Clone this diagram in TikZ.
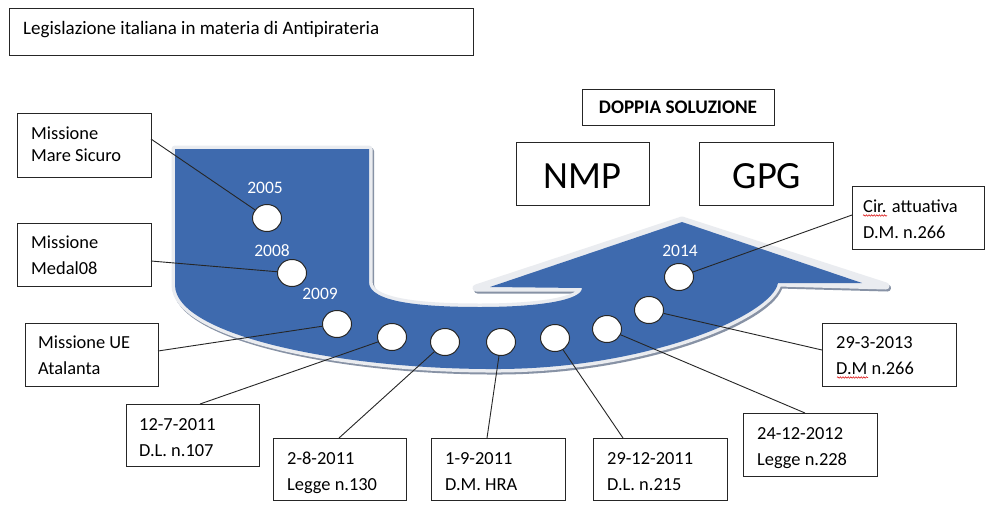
\documentclass[tikz,border=0pt]{standalone}
\usepackage{fontspec}
\setmainfont{Carlito}
\usetikzlibrary{calc,shapes.geometric,decorations.pathmorphing}
\definecolor{arrowblue}{RGB}{62,106,174}
\definecolor{bevelc}{RGB}{234,236,240}
\definecolor{shadowc}{RGB}{135,146,165}
\begin{document}
\begin{tikzpicture}[x=1pt,y=-1pt,
  box/.style={draw=black!85,line width=1pt,fill=white,inner sep=0pt,outer sep=0pt,anchor=north west},
  txt/.style={anchor=base west,inner sep=0pt,font=\fontsize{18.4}{26}\selectfont},
  yr/.style={anchor=base,inner sep=0pt,text=white,font=\fontsize{17.5}{20}\selectfont},
  dot/.style={ellipse,draw=black!85,line width=1pt,fill=white,minimum width=29pt,minimum height=27pt,inner sep=0pt},
  conn/.style={draw=black!85,line width=0.9pt},
  squig/.style={draw=red!85!black,line width=0.5pt,decorate,decoration={snake,segment length=2.6pt,amplitude=0.8pt}}
]
\useasboundingbox[fill=white] (0,0) rectangle (1004,528);

% ---- U-turn arrow: shadow, bevel, body
\begin{scope}[shift={(1.5,2)}]
\path[fill=shadowc,draw=shadowc,line width=7pt,line join=round]
  (175,149) -- (369,149) -- (369,282) .. controls (369,302) and (420,307) .. (480,307)
  .. controls (540,307) and (582,300) .. (582,288) -- (476,288) -- (682,220) -- (886,286)
  -- (778,283) .. controls (772,315) and (650,368) .. (500,369)
  .. controls (340,370) and (175,335) .. (175,285) -- cycle;
\end{scope}
\path[fill=bevelc,draw=bevelc,line width=7pt,line join=round]
  (175,149) -- (369,149) -- (369,282) .. controls (369,302) and (420,307) .. (480,307)
  .. controls (540,307) and (582,300) .. (582,288) -- (476,288) -- (682,220) -- (886,286)
  -- (778,283) .. controls (772,315) and (650,368) .. (500,369)
  .. controls (340,370) and (175,335) .. (175,285) -- cycle;
\fill[arrowblue]
  (175,149) -- (369,149) -- (369,282) .. controls (369,302) and (420,307) .. (480,307)
  .. controls (540,307) and (582,300) .. (582,288) -- (490,287) -- (682,222) -- (862,283)
  -- (778,283) .. controls (772,315) and (650,368) .. (500,369)
  .. controls (340,370) and (175,335) .. (175,285) -- cycle;

% ---- year labels
\node[yr] (y2005) at (265,193) {2005};
\node[yr] (y2008) at (272,256) {2008};
\node[yr] (y2009) at (320,299) {2009};
\node[yr] (y2014) at (680,256) {2014};

% ---- boxes
\node[box,minimum width=464pt,minimum height=47pt] (title) at (9,8) {};
\node[box,minimum width=192pt,minimum height=36pt] (doppia) at (582,89) {};
\node[box,minimum width=133pt,minimum height=63pt] (nmp) at (516,142) {};
\node[box,minimum width=134pt,minimum height=63pt] (gpg) at (699,142) {};
\node[box,minimum width=134pt,minimum height=64pt] (ms) at (17,113) {};
\node[box,minimum width=134pt,minimum height=63pt] (md) at (17,223) {};
\node[box,minimum width=133pt,minimum height=63pt] (at) at (25,323) {};
\node[box,minimum width=133pt,minimum height=62pt] (d1) at (126,404) {};
\node[box,minimum width=133pt,minimum height=62pt] (d2) at (273,438) {};
\node[box,minimum width=134pt,minimum height=62pt] (d3) at (431,438) {};
\node[box,minimum width=134pt,minimum height=62pt] (d4) at (593,438) {};
\node[box,minimum width=134pt,minimum height=63pt] (d5) at (743,413) {};
\node[box,minimum width=134pt,minimum height=63pt] (d6) at (822,323) {};
\node[box,minimum width=132pt,minimum height=63pt] (d7) at (852,186) {};

% ---- circles
\node[dot] (c1) at (267,218) {};
\node[dot] (c2) at (292,273) {};
\node[dot] (c3) at (337,324) {};
\node[dot] (c4) at (392,337) {};
\node[dot] (c5) at (445,342) {};
\node[dot] (c6) at (501,342) {};
\node[dot] (c7) at (555,338) {};
\node[dot] (c8) at (607,329) {};
\node[dot] (c9) at (649,310) {};
\node[dot] (c10) at (679,277) {};

% ---- connectors
\path[conn] ($(ms.north east)+(0,26)$) -- (c1);
\path[conn] ($(md.north east)+(0,38)$) -- (c2);
\path[conn] ($(at.north east)+(0,28)$) -- (c3);
\path[conn] ($(d1.north west)+(74,0)$) -- (c4);
\path[conn] ($(d2.north west)+(66,0)$) -- (c5);
\path[conn] ($(d3.north west)+(56,0)$) -- (c6);
\path[conn] ($(d4.north west)+(30,0)$) -- (c7);
\path[conn] ($(d5.north west)+(62,0)$) -- (c8);
\path[conn] ($(d6.north west)+(0,27)$) -- (c9);
\path[conn] ($(d7.north west)+(0,29)$) -- (c10);

% ---- texts
\node[txt,font=\fontsize{19}{22}\selectfont] (title-t) at (23,34) {Legislazione italiana in materia di Antipirateria};
\node[anchor=base,inner sep=0pt,font=\fontsize{19.2}{22}\selectfont\bfseries] (doppia-t) at (678,113) {DOPPIA SOLUZIONE};
\node[anchor=base,inner sep=0pt,font=\fontsize{38.5}{44}\selectfont] (nmp-t) at (582.5,188) {NMP};
\node[anchor=base,inner sep=0pt,font=\fontsize{38.5}{44}\selectfont] (gpg-t) at (767,188) {GPG};
\node[txt,font=\fontsize{18.4}{22.5}\selectfont] (ms-t) at (31,139) {\begin{tabular}[t]{@{}l@{}}Missione\\Mare Sicuro\end{tabular}};
\node[txt] (md-t) at (31,248) {\begin{tabular}[t]{@{}l@{}}Missione\\Medal08\end{tabular}};
\node[txt] (at-t) at (38,348) {\begin{tabular}[t]{@{}l@{}}Missione UE\\Atalanta\end{tabular}};
\node[txt] (d1-t) at (139,430) {\begin{tabular}[t]{@{}l@{}}12-7-2011\\D.L. n.107\end{tabular}};
\node[txt] (d2-t) at (287,464) {\begin{tabular}[t]{@{}l@{}}2-8-2011\\Legge n.130\end{tabular}};
\node[txt] (d3-t) at (445,464) {\begin{tabular}[t]{@{}l@{}}1-9-2011\\D.M. HRA\end{tabular}};
\node[txt] (d4-t) at (607,464) {\begin{tabular}[t]{@{}l@{}}29-12-2011\\D.L. n.215\end{tabular}};
\node[txt] (d5-t) at (757,439) {\begin{tabular}[t]{@{}l@{}}24-12-2012\\Legge n.228\end{tabular}};
\node[txt] (d6-t) at (836,348) {\begin{tabular}[t]{@{}l@{}}29-3-2013\\D.M n.266\end{tabular}};
\node[txt] (d7-t) at (863,212) {\begin{tabular}[t]{@{}l@{}}Cir. attuativa\\D.M. n.266\end{tabular}};

% ---- spell-check underlines
\coordinate (sq1a) at (863,215.5);
\coordinate (sq1b) at (887,215.5);
\coordinate (sq2a) at (837,377.5);
\coordinate (sq2b) at (868,377.5);
\path[squig] (sq1a) -- (sq1b);
\path[squig] (sq2a) -- (sq2b);
\end{tikzpicture}
\end{document}
